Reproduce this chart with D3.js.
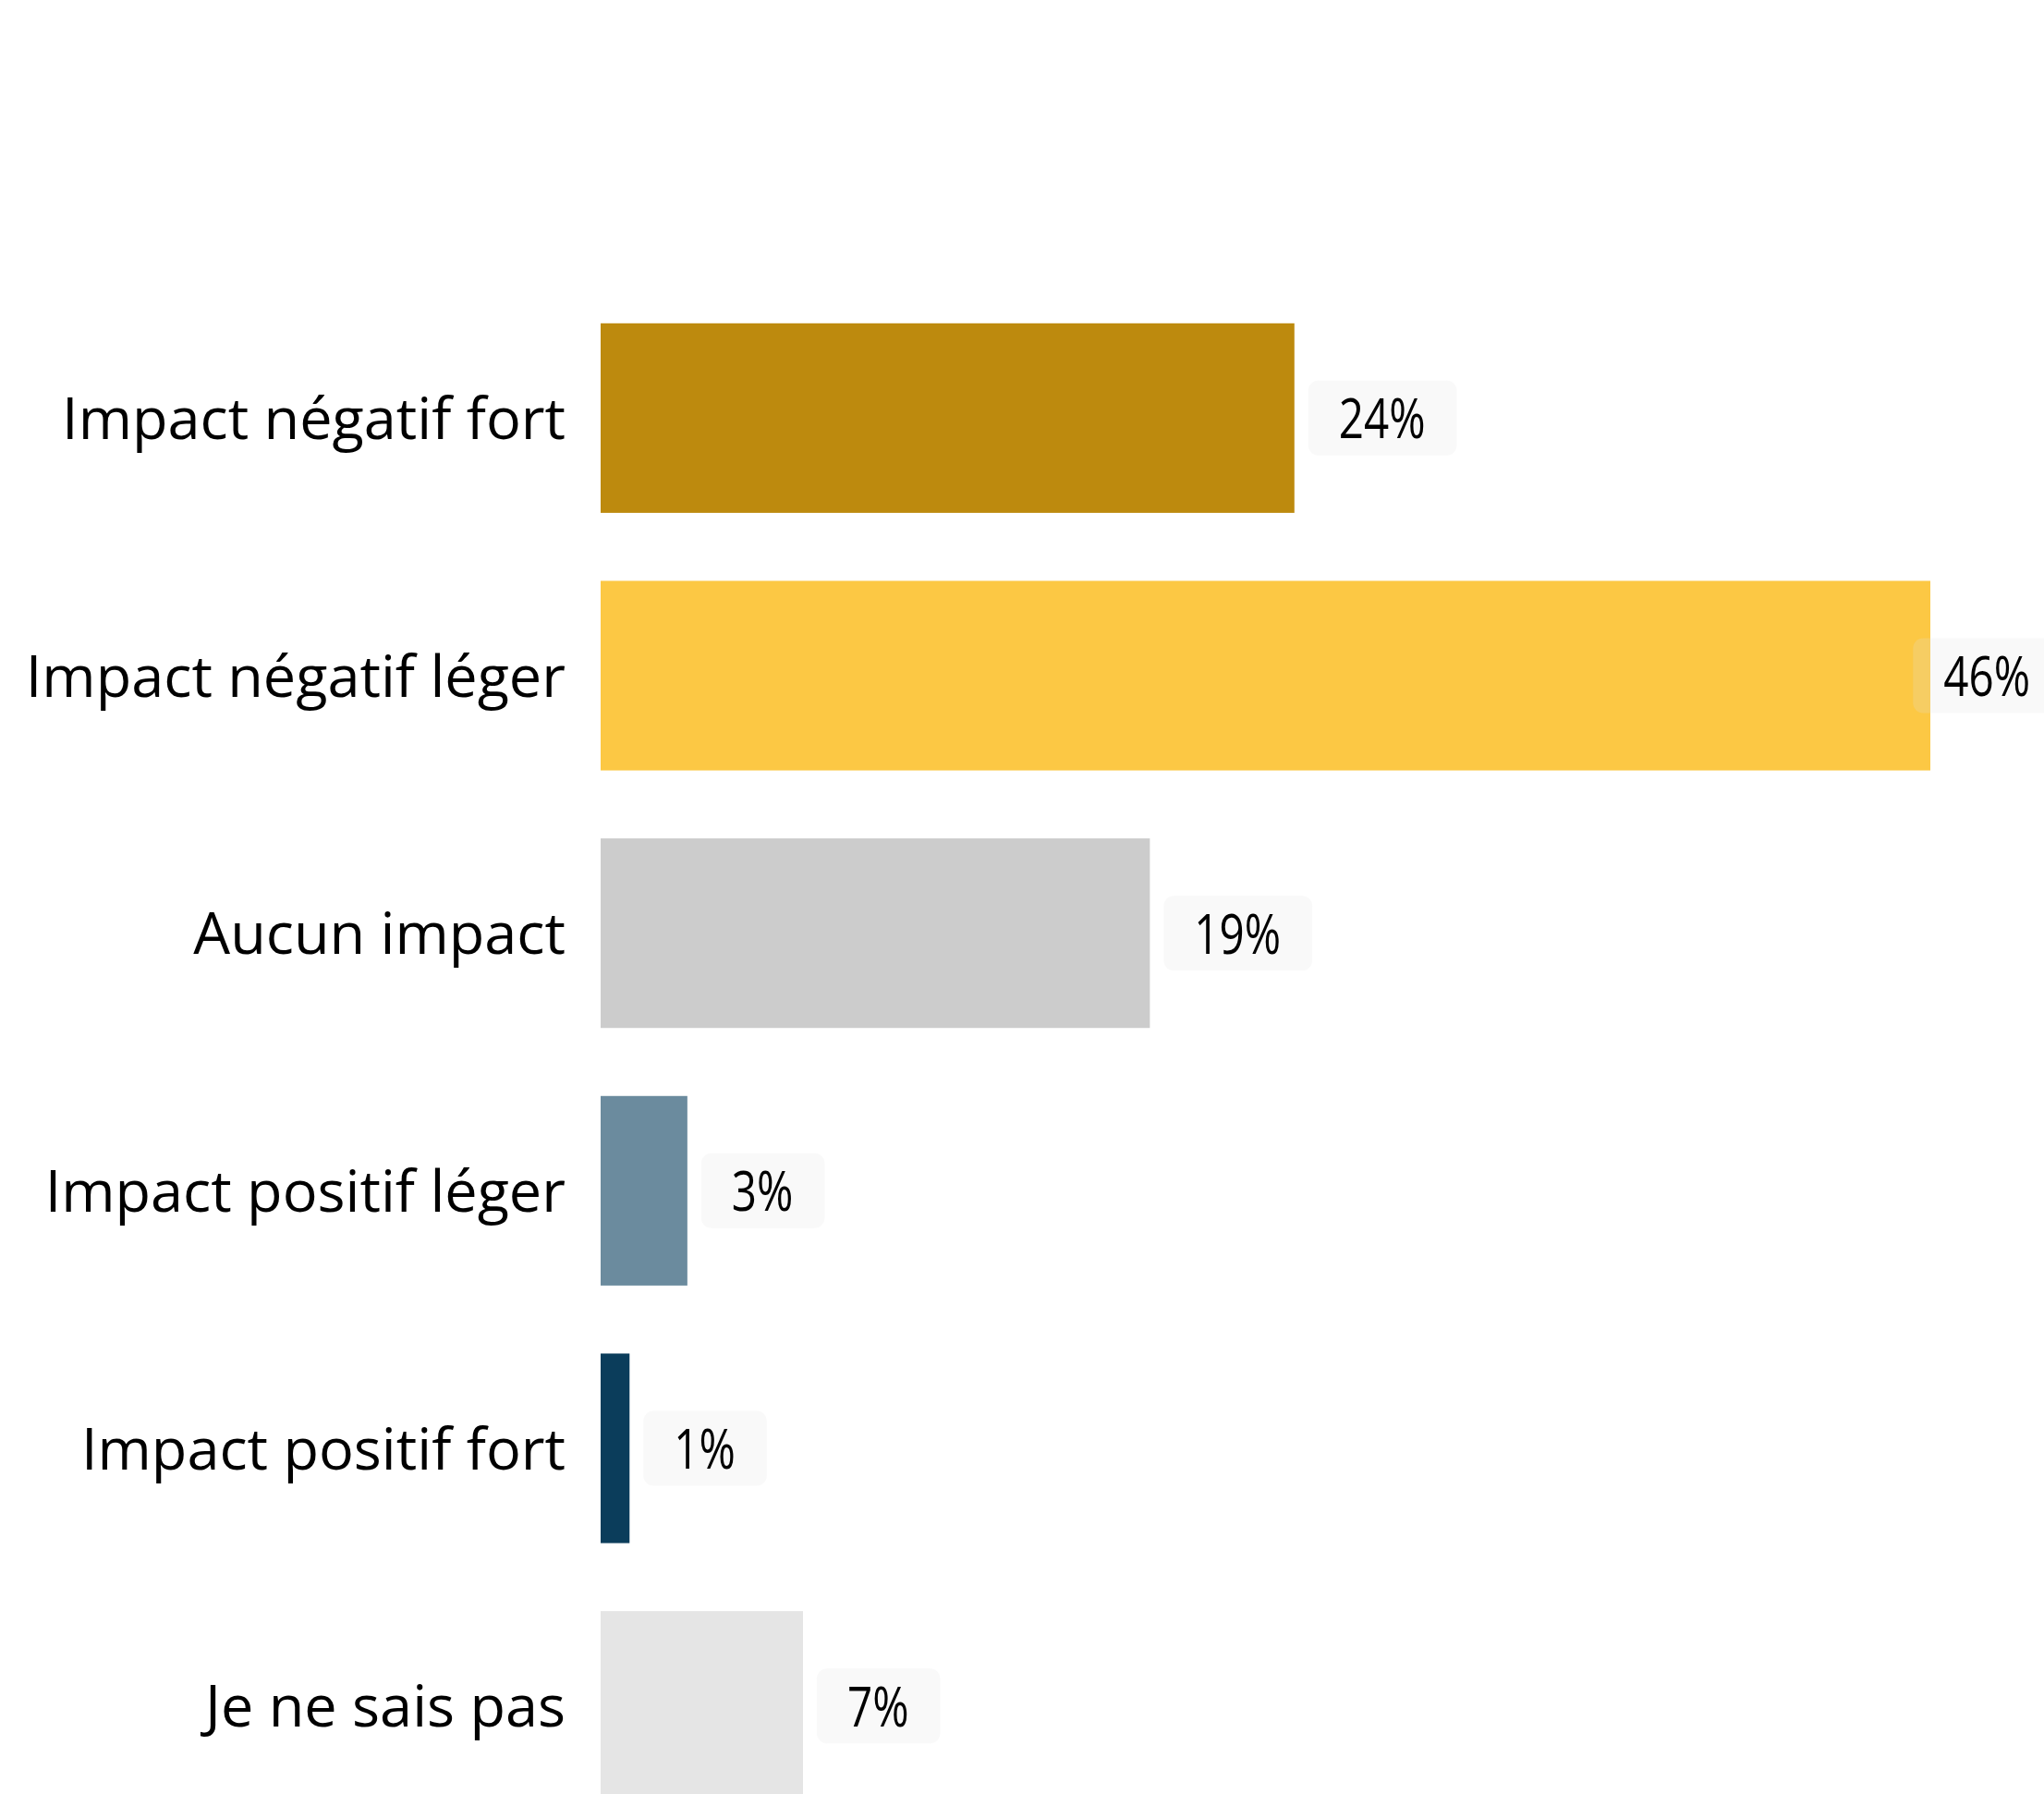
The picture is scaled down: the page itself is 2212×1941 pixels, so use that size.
<!DOCTYPE html>
<html>
<head>
<meta charset="utf-8">
<script src="https://cdn.jsdelivr.net/npm/d3@7"></script>
<style>
  body { margin: 0; background: #fff; overflow: hidden; }
  svg { display: block; }
</style>
</head>
<body>
<script>
// categories and values
var categories = ["Impact négatif fort", "Impact négatif léger", "Aucun impact",
                  "Impact positif léger", "Impact positif fort", "Je ne sais pas"];
var values = [24, 46, 19, 3, 1, 7];
var colors = ["#bd8a0e", "#fcc844", "#cccccc", "#6b8b9e", "#0b3d5b", "#e5e5e5"];

var w = 2212;
var h = 1941;
var squeeze = 0.78; // value labels use narrow digits

var svg = d3.select("body")
            .append("svg")
            .attr("width", w)
            .attr("height", h);

var x = d3.scaleLinear()
          .domain([0, d3.max(values)])
          .range([650, 2089]);

var y = d3.scaleBand()
          .domain(categories)
          .range([313, 1985])
          .paddingInner(0.264)
          .paddingOuter(0.132);

var rows = categories.map(function(c, i) {
  return { cat: c, value: values[i], color: colors[i] };
});

// bars
svg.selectAll("rect.bar")
   .data(rows)
   .enter()
   .append("rect")
   .attr("class", "bar")
   .attr("x", x(0))
   .attr("y", function(d) { return y(d.cat); })
   .attr("width", function(d) { return x(d.value) - x(0); })
   .attr("height", y.bandwidth())
   .style("fill", function(d) { return d.color; });

// category labels
svg.selectAll("text.cat")
   .data(rows)
   .enter()
   .append("text")
   .attr("class", "cat")
   .attr("x", 612)
   .attr("y", function(d) { return y(d.cat) + y.bandwidth() / 2; })
   .attr("dy", "0.36em")
   .attr("text-anchor", "end")
   .style("font-family", "'Open Sans', sans-serif")
   .style("font-size", "63px")
   .style("fill", "#000")
   .text(function(d) { return d.cat; });

// value labels with rounded boxes
var lab = svg.selectAll("g.val")
   .data(rows)
   .enter()
   .append("g")
   .attr("class", "val");

var box = lab.append("rect")
   .attr("rx", 11)
   .attr("ry", 11)
   .style("fill", "rgba(225,225,225,0.2)");

var tg = lab.append("g");

var txt = tg.append("text")
   .attr("dy", "0.36em")
   .style("font-family", "'Open Sans', sans-serif")
   .style("font-size", "61px")
   .style("fill", "#000")
   .text(function(d) { return d.value + "%"; });

txt.each(function(d) {
  var tw = this.getComputedTextLength() * squeeze;
  var tx = x(d.value) + 15 + 33;
  if (tx + tw > w - 15) tx = w - 15 - tw;
  var cy = y(d.cat) + y.bandwidth() / 2;
  d3.select(this.parentNode)
    .attr("transform", "translate(" + tx + "," + cy + ") scale(" + squeeze + ",1)");
  d3.select(this.parentNode.parentNode).select("rect")
    .attr("x", tx - 33)
    .attr("width", tw + 67)
    .attr("y", cy - 40.5)
    .attr("height", 81);
});
</script>
</body>
</html>
